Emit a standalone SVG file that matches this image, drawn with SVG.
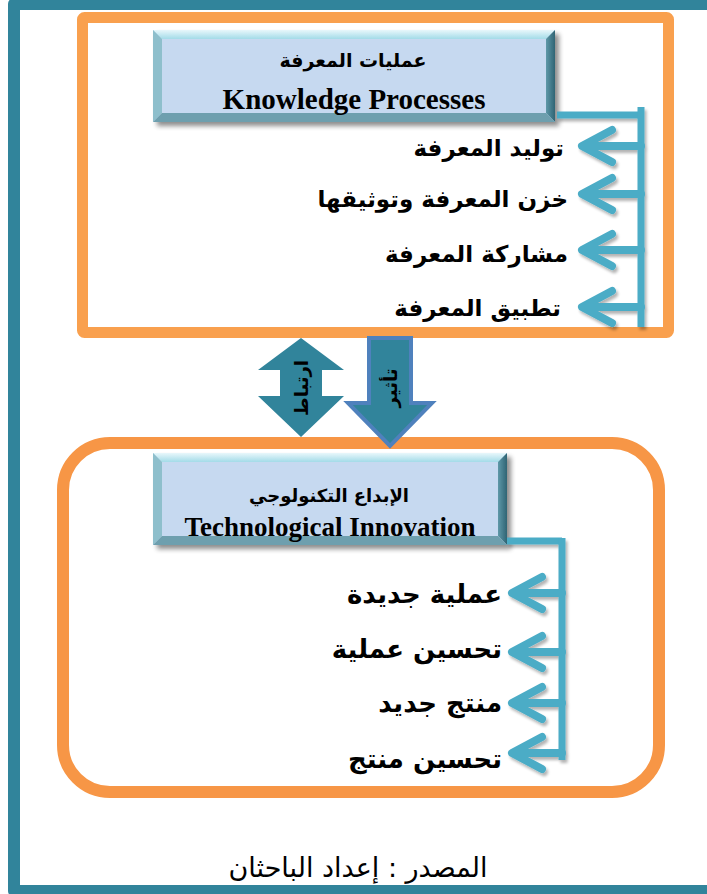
<svg xmlns="http://www.w3.org/2000/svg" width="707" height="894" viewBox="0 0 707 894">
<defs>
<style>
.ar{font-family:"DejaVu Sans",sans-serif;font-weight:bold;fill:#000}
.en{font-family:"Liberation Serif",serif;font-weight:bold;fill:#000}
.conn{fill:none;stroke:#4BACC6;stroke-width:8;stroke-linecap:round;stroke-linejoin:round}
.line{fill:none;stroke:#4BACC6;stroke-width:7}
.bevT{fill:url(#gTop)}
.bevL{fill:#8EBFCC}
.bevR{fill:url(#gRight)}
.bevB{fill:#6E9FAE}
.face{fill:#C6D9F0}
</style>
<linearGradient id="gTop" x1="0" y1="0" x2="0" y2="1">
<stop offset="0" stop-color="#E8F7FB"/>
<stop offset="1" stop-color="#A3DBE8"/>
</linearGradient>
<linearGradient id="gRight" x1="0" y1="0" x2="1" y2="0">
<stop offset="0" stop-color="#5E98A8"/>
<stop offset="1" stop-color="#2F6474"/>
</linearGradient>
<filter id="sh" x="-10%" y="-10%" width="130%" height="140%">
<feGaussianBlur in="SourceAlpha" stdDeviation="2.5"/>
<feOffset dx="4" dy="4" result="b"/>
<feComponentTransfer><feFuncA type="linear" slope="0.45"/></feComponentTransfer>
<feMerge><feMergeNode/><feMergeNode in="SourceGraphic"/></feMerge>
</filter>
<filter id="sh2" x="-20%" y="-20%" width="140%" height="140%">
<feGaussianBlur in="SourceAlpha" stdDeviation="1.5"/>
<feOffset dx="2" dy="3" result="b"/>
<feComponentTransfer><feFuncA type="linear" slope="0.3"/></feComponentTransfer>
<feMerge><feMergeNode/><feMergeNode in="SourceGraphic"/></feMerge>
</filter>
</defs>
<rect width="707" height="894" fill="#fff"/>
<g id="frame">
<path d="M 720 4 H 14 V 891 H 720" fill="none" stroke="#31849B" stroke-width="12" stroke-linejoin="round"/>
</g>
<g id="group-knowledge">
<rect x="82.5" y="17.5" width="586" height="315" rx="2" fill="none" stroke="#F9A04E" stroke-width="11"/>
</g>
<g id="group-innovation">
<rect x="63" y="443" width="596" height="349" rx="47" fill="none" stroke="#F79646" stroke-width="12"/>
</g>
<g id="node-knowledge-processes">
<g filter="url(#sh)">
<rect x="153" y="30" width="402" height="92" class="face"/>
<polygon points="153,30 555,30 546,39 162,39" class="bevT"/>
<polygon points="153,30 162,39 162,113 153,122" class="bevL"/>
<polygon points="555,30 555,122 546,113 546,39" class="bevR"/>
<polygon points="153,122 555,122 546,113 162,113" class="bevB"/>
</g>
<text x="353" y="67" text-anchor="middle" class="ar" font-size="19">عمليات المعرفة</text>
<text x="354" y="109" text-anchor="middle" class="en" font-size="29">Knowledge Processes</text>
</g>
<g id="node-tech-innovation">
<g filter="url(#sh)">
<rect x="153" y="453" width="354" height="92" class="face"/>
<polygon points="153,453 507,453 498,462 162,462" class="bevT"/>
<polygon points="153,453 162,462 162,536 153,545" class="bevL"/>
<polygon points="507,453 507,545 498,536 498,462" class="bevR"/>
<polygon points="153,545 507,545 498,536 162,536" class="bevB"/>
</g>
<text x="329" y="502" text-anchor="middle" class="ar" font-size="18">الإبداع التكنولوجي</text>
<text x="330" y="536" text-anchor="middle" class="en" font-size="27">Technological Innovation</text>
</g>
<g id="node-k1"><text x="564" y="156" text-anchor="end" class="ar" font-size="23">توليد المعرفة</text></g>
<g id="node-k2"><text x="568" y="207" text-anchor="end" class="ar" font-size="23">خزن المعرفة وتوثيقها</text></g>
<g id="node-k3"><text x="568" y="262" text-anchor="end" class="ar" font-size="23">مشاركة المعرفة</text></g>
<g id="node-k4"><text x="561" y="316" text-anchor="end" class="ar" font-size="23">تطبيق المعرفة</text></g>
<g id="node-t1"><text x="502" y="603" text-anchor="end" class="ar" font-size="26">عملية جديدة</text></g>
<g id="node-t2"><text x="502" y="658" text-anchor="end" class="ar" font-size="26">تحسين عملية</text></g>
<g id="node-t3"><text x="502" y="712" text-anchor="end" class="ar" font-size="26">منتج جديد</text></g>
<g id="node-t4"><text x="502" y="768" text-anchor="end" class="ar" font-size="26">تحسين منتج</text></g>
<g id="connectors" filter="url(#sh2)">
<path class="line" d="M 557 115 H 641"/>
<path class="line" d="M 641 107 V 327" stroke-width="8"/>
<path class="conn" d="M 641 146 H 584 M 612 130 L 582 146 L 612 162"/>
<path class="conn" d="M 641 194 H 584 M 612 178 L 582 194 L 612 210"/>
<path class="conn" d="M 641 250 H 584 M 612 234 L 582 250 L 612 266"/>
<path class="conn" d="M 641 307 H 584 M 612 291 L 582 307 L 612 323"/>
<path class="line" d="M 507 541 H 562"/>
<path class="line" d="M 562 538 V 760" stroke-width="8"/>
<path class="conn" d="M 562 593 H 514 M 542 577 L 512 593 L 542 609"/>
<path class="conn" d="M 562 652 H 514 M 542 636 L 512 652 L 542 668"/>
<path class="conn" d="M 562 703 H 514 M 542 687 L 512 703 L 542 719"/>
<path class="conn" d="M 562 753 H 514 M 542 737 L 512 753 L 542 769"/>
</g>
<g id="link-correlation">
<polygon points="301,338 344,370 322,370 322,396 344,396 301,437 258,396 280,396 280,370 258,370" fill="#31849B"/>
<text transform="translate(308,388) rotate(-90)" text-anchor="middle" class="ar" font-size="18">ارتباط</text>
</g>
<g id="link-impact">
<polygon points="369,338 411,338 411,403 432,403 390,446 348,403 369,403" fill="#31849B" stroke="#4F81BD" stroke-width="4" stroke-linejoin="miter"/>
<text transform="translate(397,388) rotate(-90)" text-anchor="middle" class="ar" font-size="18">تأثير</text>
</g>
<g id="source">
<text x="358" y="877" text-anchor="middle" font-family="DejaVu Sans,sans-serif" font-size="27" fill="#000">المصدر : إعداد الباحثان</text>
</g>
</svg>
